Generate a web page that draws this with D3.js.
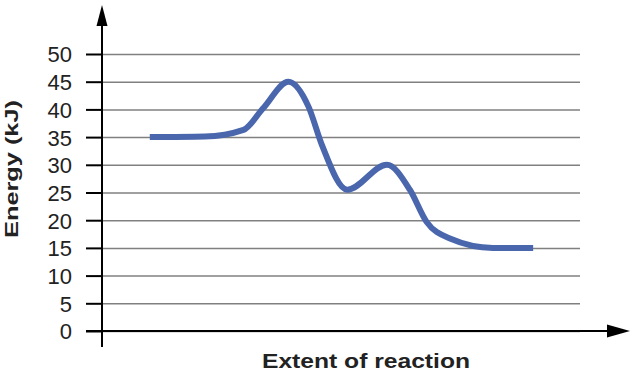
<!DOCTYPE html>
<html lang="en">
<head>
  <meta charset="UTF-8">
  <title>Energy diagram</title>
  <script src="https://d3js.org/d3.v7.min.js"></script>
  <style>
    body { margin: 0; background: #fff; font-family: "Liberation Sans", Arial, sans-serif; }
    svg { display: block; }
    .tick text { fill: #222; font-size: 22px; }
  </style>
</head>
<body>
  <svg id="chart"></svg>
  <script>
    // energy ticks (kJ)
    const yTicks = [0, 5, 10, 15, 20, 25, 30, 35, 40, 45, 50];

    // extent of reaction (arbitrary units 0-100) and energy (kJ)
    const extent = [10.0, 21.5, 29.6, 33.7, 39.0, 43.2, 46.0, 51.3, 59.6, 64.4, 67.9,
      72.8, 81.8, 90.2];
    const energy = [35, 35.1, 36.3, 40.2, 45, 40.5, 33.6, 25.5, 30.0, 25.5, 19.7,
      16.7, 15.0, 15.0];

    const width = 632;
    const height = 373;

    const x = d3.scaleLinear().domain([0, 100]).range([102, 580]);
    const y = d3.scaleLinear().domain([0, 50]).range([331, 54]);

    const svg = d3.select("#chart")
      .attr("width", width)
      .attr("height", height);

    // gridlines
    const grid = svg.append("g")
      .attr("transform", `translate(${x(0)},0)`)
      .call(d3.axisRight(y).tickValues(yTicks).tickSize(x(100) - x(0)).tickFormat(""));
    grid.select(".domain").remove();
    grid.selectAll(".tick line").attr("stroke", "#808080").attr("stroke-width", 1.5);

    // y axis ticks + labels
    const yAxis = svg.append("g")
      .attr("transform", `translate(${x(0)},0)`)
      .call(d3.axisLeft(y).tickValues(yTicks).tickSize(16).tickPadding(14));
    yAxis.select(".domain").remove();
    yAxis.selectAll(".tick line").attr("stroke", "#000").attr("stroke-width", 2);
    yAxis.selectAll(".tick text").attr("dy", "0.36em");

    // axis lines with arrows
    const axes = svg.append("g").attr("fill", "#000").attr("stroke", "#000");
    axes.append("line")
      .attr("x1", x(0)).attr("x2", x(0))
      .attr("y1", y(0) + 16).attr("y2", 22)
      .attr("stroke-width", 2);
    axes.append("path")
      .attr("stroke", "none")
      .attr("d", `M${x(0)},5 L${x(0) + 5.5},26 L${x(0) - 5.5},26 Z`);
    axes.append("line")
      .attr("x1", x(0) - 16).attr("x2", 610)
      .attr("y1", y(0)).attr("y2", y(0))
      .attr("stroke-width", 2);
    axes.append("path")
      .attr("stroke", "none")
      .attr("d", `M630,${y(0)} L607,${y(0) - 6.5} L607,${y(0) + 6.5} Z`);

    // energy curve
    const line = d3.line()
      .x((d, i) => x(extent[i]))
      .y(d => y(d))
      .curve(d3.curveMonotoneX);

    svg.append("path")
      .datum(energy)
      .attr("fill", "none")
      .attr("stroke", "#4a66ad")
      .attr("stroke-width", 6)
      .attr("d", line);

    // axis titles
    svg.append("text")
      .attr("x", 366)
      .attr("y", 368)
      .attr("text-anchor", "middle")
      .attr("font-size", 21)
      .attr("font-weight", "bold")
      .attr("fill", "#222")
      .attr("textLength", 208)
      .attr("lengthAdjust", "spacingAndGlyphs")
      .text("Extent of reaction");

    svg.append("text")
      .attr("transform", "translate(18,169) rotate(-90)")
      .attr("text-anchor", "middle")
      .attr("font-size", 19)
      .attr("font-weight", "bold")
      .attr("fill", "#222")
      .attr("textLength", 138)
      .attr("lengthAdjust", "spacingAndGlyphs")
      .text("Energy (kJ)");
  </script>
</body>
</html>
